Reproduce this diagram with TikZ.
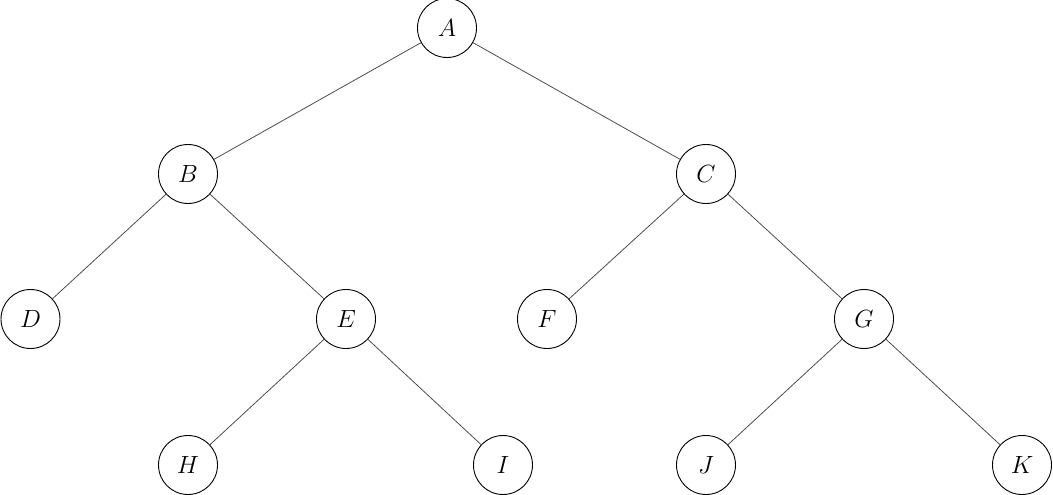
\documentclass[tikz,border=0pt]{standalone}
\begin{document}
\begin{tikzpicture}[x=1pt,y=-1pt,
  vtx/.style={circle,draw=black,line width=0.9pt,minimum size=59pt,inner sep=0pt,font=\fontsize{24}{24}\selectfont},
  edge/.style={draw=black!70,line width=0.8pt}]
\useasboundingbox (0,0) rectangle (1053,495);
\node[vtx] (A) at (447,28) {$A$};
\node[vtx] (B) at (188,174) {$B$};
\node[vtx] (C) at (706,174) {$C$};
\node[vtx] (D) at (30.5,319) {$D$};
\node[vtx] (E) at (346,319) {$E$};
\node[vtx] (F) at (547,319) {$F$};
\node[vtx] (G) at (864,319) {$G$};
\node[vtx] (H) at (188,465) {$H$};
\node[vtx] (I) at (503,465) {$I$};
\node[vtx] (J) at (706,465) {$J$};
\node[vtx] (K) at (1022,465) {$K$};
\draw[edge] (A) -- (B);
\draw[edge] (A) -- (C);
\draw[edge] (B) -- (D);
\draw[edge] (B) -- (E);
\draw[edge] (C) -- (F);
\draw[edge] (C) -- (G);
\draw[edge] (E) -- (H);
\draw[edge] (E) -- (I);
\draw[edge] (G) -- (J);
\draw[edge] (G) -- (K);
\end{tikzpicture}
\end{document}
